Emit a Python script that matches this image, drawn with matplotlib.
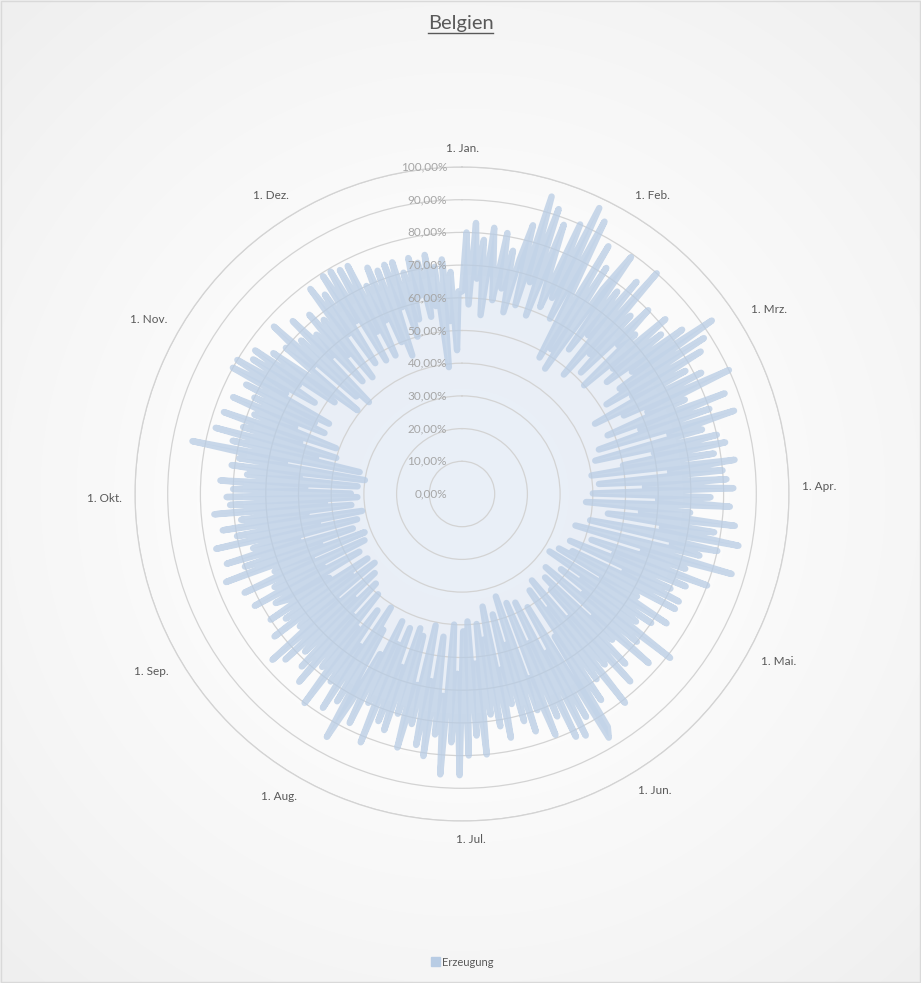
import matplotlib
matplotlib.use('Agg')
import matplotlib.pyplot as plt
import matplotlib.transforms as mtransforms
from matplotlib.patches import Patch, Rectangle
from matplotlib.lines import Line2D
import numpy as np

plt.rcParams['font.family'] = ['Lato', 'DejaVu Sans']

TITLE = 'Belgien'
SERIES_NAME = 'Erzeugung'
MONTH_LABELS = ['1. Jan.', '1. Feb.', '1. Mrz.', '1. Apr.', '1. Mai.', '1. Jun.',
                '1. Jul.', '1. Aug.', '1. Sep.', '1. Okt.', '1. Nov.', '1. Dez.']
MONTH_START_DAYS = [0, 31, 59, 90, 120, 151, 181, 212, 243, 273, 304, 334]
RADIAL_TICKS = [0, 10, 20, 30, 40, 50, 60, 70, 80, 90, 100]

# daily share in percent, one list per month
jan = [62, 80, 58, 83, 66, 78, 55, 82, 70, 60, 81, 64, 76, 57, 74, 85, 60, 95, 68, 92, 58, 88, 72, 62, 90, 66, 97, 60, 94, 70, 48]
feb = [88, 52, 82, 46, 76, 89, 55, 78, 62, 84, 48, 90, 58, 75, 52, 80, 66, 72, 50, 82, 60, 78, 56, 84, 64, 93, 58, 88]
mar = [52, 85, 60, 78, 46, 82, 55, 90, 62, 74, 48, 86, 58, 80, 44, 87, 66, 76, 42, 80, 60, 82, 50, 78, 40, 84, 64, 80, 42, 81, 56]
apr = [83, 40, 76, 60, 82, 38, 70, 55, 84, 45, 78, 62, 86, 40, 80, 66, 75, 36, 86, 58, 72, 42, 80, 50, 74, 36, 70, 55, 74, 38]
may = [74, 34, 62, 50, 74, 32, 70, 45, 66, 38, 81, 48, 70, 34, 77, 55, 64, 36, 72, 40, 77, 50, 68, 34, 81, 44, 70, 36, 76, 52, 84]
jun = [87, 40, 78, 55, 83, 37, 82, 50, 74, 36, 79, 60, 70, 33, 76, 48, 72, 38, 66, 55, 76, 35, 72, 45, 68, 40, 80, 52, 74, 39]
jul = [80, 42, 86, 55, 76, 40, 86, 62, 74, 44, 81, 58, 78, 41, 72, 60, 80, 45, 70, 43, 76, 56, 74, 44, 82, 50, 70, 43, 78, 55, 72]
aug = [85, 48, 74, 41, 78, 56, 70, 44, 80, 52, 68, 40, 76, 50, 72, 38, 68, 46, 74, 36, 77, 50, 64, 34, 72, 42, 66, 35, 70, 48, 62]
sep = [66, 36, 72, 48, 64, 33, 73, 50, 62, 32, 77, 46, 70, 35, 75, 52, 66, 33, 77, 45, 70, 31, 74, 48, 68, 34, 76, 42, 71, 32]
okt = [72, 34, 70, 48, 74, 32, 66, 50, 71, 30, 69, 55, 84, 32, 72, 46, 78, 40, 70, 52, 77, 41, 68, 55, 76, 46, 70, 50, 74, 46, 80]
nov = [62, 80, 53, 76, 60, 77, 48, 72, 56, 41, 70, 60, 77, 44, 68, 40, 74, 58, 66, 46, 72, 55, 68, 45, 78, 60, 74, 48, 79, 62]
dez = [79, 47, 78, 56, 78, 47, 70, 58, 75, 50, 73, 45, 74, 60, 74, 50, 70, 55, 74, 62, 72, 55, 74, 58, 70, 39, 72, 53, 68, 44, 62]

values = np.array(jan + feb + mar + apr + may + jun + jul + aug + sep + okt + nov + dez, dtype=float)
n_days = 365

W, H = 921, 983
fig = plt.figure(figsize=(W / 100, H / 100), dpi=100)

# background: soft radial gradient like the office chart area
bg = fig.add_axes([0, 0, 1, 1])
yy, xx = np.mgrid[0:H, 0:W]
d = np.sqrt(((xx - 462) / 650.0) ** 2 + ((yy - 494) / 650.0) ** 2)
shade = 1.0 - 0.06 * np.clip(d, 0, 1) ** 1.5
bg.imshow(np.dstack([shade, shade, shade]), extent=[0, W, H, 0], aspect='auto')
bg.add_patch(Rectangle((0.5, 0.5), W - 1.5, H - 1.5, fill=False, edgecolor='#d9d9d9', lw=1))
bg.set_xlim(0, W)
bg.set_ylim(H, 0)
bg.axis('off')

cx, cy, R = 462, 494, 327
ax = fig.add_axes([(cx - R) / W, 1 - (cy + R) / H, 2 * R / W, 2 * R / H], projection='polar')
ax.patch.set_alpha(0)
ax.set_theta_zero_location('N')
ax.set_theta_direction(-1)
ax.set_ylim(0, 100)

theta = np.arange(n_days) / n_days * 2 * np.pi
th = np.append(theta, theta[0])
vals = np.append(values, values[0])

ax.fill(th, vals, color='#c6d6ec', alpha=0.36, lw=0, zorder=1)
ax.plot(th, vals, color='#b8cce4', alpha=0.75, lw=4.6, solid_capstyle='round',
        solid_joinstyle='round', zorder=2)

ax.set_yticks(RADIAL_TICKS[1:])
ax.set_yticklabels([])
ax.set_xticks([])
ax.grid(True, axis='y', color='#d3d3d3', lw=0.9)
ax.spines['polar'].set_color('#d3d3d3')
ax.spines['polar'].set_linewidth(0.9)

off = mtransforms.offset_copy(ax.transData, fig=fig, x=-15, y=0, units='dots')
for v in RADIAL_TICKS:
    ax.text(0, v, f'{v},00%', transform=off, ha='right', va='center',
            fontsize=8.5, color='#a6a6a6', zorder=5)

for day, lab in zip(MONTH_START_DAYS, MONTH_LABELS):
    t = day / n_days * 2 * np.pi
    s, c = np.sin(t), np.cos(t)
    ha = 'left' if s > 0.05 else ('right' if s < -0.05 else 'center')
    va = 'bottom' if c > 0.05 else ('top' if c < -0.05 else 'center')
    ax.text(t, 104, lab, ha=ha, va=va, fontsize=8.5, color='#595959', clip_on=False)

title = fig.text(0.5, 1 - 23 / H, TITLE, ha='center', va='center', fontsize=14.5, color='#595959')
fig.canvas.draw()
bb = title.get_window_extent()
y_line = bb.y0 - 1
fig.add_artist(Line2D([bb.x0 / W, bb.x1 / W], [y_line / H, y_line / H],
                      transform=fig.transFigure, color='#595959', lw=1))

fig.legend(handles=[Patch(facecolor='#b8cce4', edgecolor='#b8cce4')], labels=[SERIES_NAME],
           loc='center', bbox_to_anchor=(462 / W, 1 - 962 / H), frameon=False, fontsize=8,
           handlelength=0.8, handleheight=0.8, handletextpad=0.2, labelcolor='#595959')

fig.savefig('out.png', dpi=100)
